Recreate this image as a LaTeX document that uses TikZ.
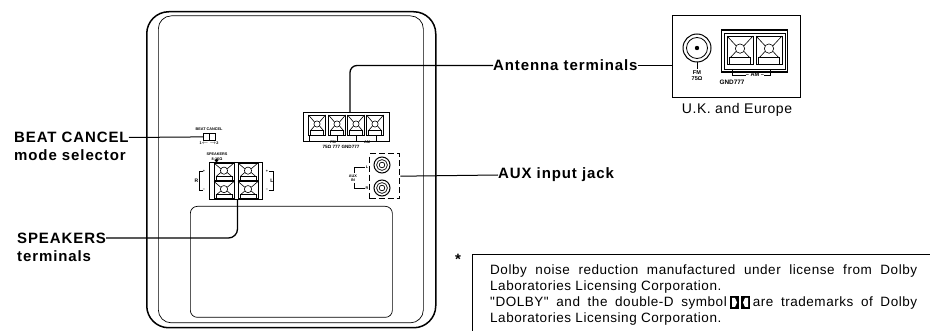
\documentclass[tikz,border=0pt]{standalone}
\usepackage{fontspec}
\setmainfont{Liberation Sans}
\newfontfamily\spacedfont[LetterSpace=6]{Liberation Sans}
\newfontfamily\notefont[LetterSpace=4]{Liberation Sans}
\usepackage{tikz}
\usetikzlibrary{positioning,calc}
\tikzset{
  leader/.style={line width=1.3pt},
  thinline/.style={line width=0.5pt},
  calloutlabel/.style={font=\fontsize{15}{18}\spacedfont\bfseries, align=left, inner sep=0pt},
  tinylabel/.style={font=\fontsize{3.8}{4.4}\selectfont\bfseries, inner sep=0pt, align=center},
  smalllabel/.style={font=\fontsize{5.6}{6.4}\selectfont\bfseries, inner sep=0pt, align=center},
  panelbox/.style={draw, anchor=north west, inner sep=0pt},
  noteline/.style={anchor=west, inner sep=0pt, font=\fontsize{13.5}{16}\notefont},
}
% one screw terminal: centre x, centre y, half width, half height
\newcommand{\terminal}[4]{
  \draw[line width=0.7pt] (#1-#3,#2-#4) rectangle (#1+#3,#2+#4);
  \draw[line width=0.6pt] (#1-#3,#2-#4) -- (#1-0.3*#3,#2-0.3*#4) (#1+#3,#2-#4) -- (#1+0.3*#3,#2-0.3*#4);
  \draw[line width=0.6pt] (#1-0.75*#3,#2+0.55*#4) -- (#1-0.3*#3,#2+0.1*#4) (#1+0.75*#3,#2+0.55*#4) -- (#1+0.3*#3,#2+0.1*#4);
  \draw[line width=0.6pt] (#1,#2-0.1*#4) circle (0.36*#3);
  \draw[line width=0.7pt] (#1-0.8*#3,#2+0.55*#4) rectangle (#1+0.8*#3,#2+#4);
}
\begin{document}
\begin{tikzpicture}[x=1pt, y=-1pt]
\useasboundingbox (0,0) rectangle (930,331);
% cabinet
\node[panelbox, line width=1.5pt, rounded corners=22pt, minimum width=289pt, minimum height=316pt] (cabinet) at (146,11) {};
\node[panelbox, line width=0.7pt, rounded corners=13pt, minimum width=265pt, minimum height=307pt] (cabinetin) at (158,15.5) {};
\node[panelbox, line width=0.7pt, rounded corners=7pt, minimum width=202pt, minimum height=111pt] (lowerpanel) at (190,206) {};
% beat cancel switch
\node[panelbox, line width=0.8pt, minimum width=12pt, minimum height=7pt] (switch) at (203,133) {};
\fill (209,133) rectangle (210,140);
\node[tinylabel] (switchname) at (209,129) {BEAT CANCEL};
\node[tinylabel] (switchpos) at (209,143.5) {1$\leftarrow$ $\rightarrow$2};
% speakers block
\node[panelbox, line width=0.8pt, minimum width=53pt, minimum height=37pt] (spkblock) at (208.5,162) {};
\foreach \xx in {224,248} \foreach \yy in {171.5,190} \terminal{\xx}{\yy}{10}{8.5};
\fill (216.5,160.5) circle (1.8pt);
\node[tinylabel] (spkname) at (217,156.5) {SPEAKERS\\8-16Ω};
\draw[thinline] (203,171) -- (199,171) -- (199,190) -- (203,190);
\draw[thinline] (269,171) -- (273,171) -- (273,190) -- (269,190);
\node[tinylabel, font=\fontsize{5}{6}\selectfont\bfseries] (spkR) at (196.5,181) {R};
\node[tinylabel, font=\fontsize{5}{6}\selectfont\bfseries] (spkL) at (272,181) {L};
\node[tinylabel] (spkRp) at (204,171) {+};
\node[tinylabel] (spkRm) at (204,190) {--};
\node[tinylabel] (spkLp) at (267,171) {+};
\node[tinylabel] (spkLm) at (267,190) {--};
% antenna block
\node[panelbox, line width=0.9pt, minimum width=86pt, minimum height=29pt] (antblock) at (303,112) {};
\foreach \xx in {317,337,356,375} \terminal{\xx}{125}{8.5}{10};
\node[tinylabel] (antfm) at (333,142) {FM};
\node[tinylabel] (antam) at (367,142) {AM};
\node[tinylabel, font=\fontsize{4.6}{5}\selectfont\bfseries] (antgnd) at (341,146.5) {75Ω 777 GND777};
\draw[thinline] (309,136) -- (309,141) -- (329,141) (337,141) -- (337,136) (356,136) -- (356,141) -- (362,141) (372,141) -- (376,141) -- (376,136);
% aux block
\node[panelbox, line width=1.4pt, dash pattern=on 6pt off 3pt, minimum width=30pt, minimum height=45pt] (auxblock) at (369,153) {};
\foreach \yy in {165,188} {
  \draw[line width=1pt] (382,\yy) circle (8pt);
  \draw[line width=0.7pt] (382,\yy) circle (5.4pt);
  \draw[line width=0.7pt] (382,\yy) circle (2.8pt);
}
\node[tinylabel] (auxname) at (353,178) {AUX\\IN};
\node[tinylabel] (auxL) at (367,167) {L};
\node[tinylabel] (auxR) at (367,188) {R};
\draw[thinline] (365,167) -- (354,167) -- (354,173) (354,183) -- (354,188) -- (365,188);
% callouts
\node[calloutlabel, anchor=west] (beatlabel) at (14,137.5) {BEAT CANCEL};
\node[calloutlabel, anchor=west] (beatlabelb) at (14,155.5) {mode selector};
\node[calloutlabel, anchor=west] (spklabel) at (17,238) {SPEAKERS};
\node[calloutlabel, anchor=west] (spklabelb) at (17,256) {terminals};
\node[calloutlabel, anchor=west] (antlabel) at (493,65.5) {Antenna terminals};
\node[calloutlabel, anchor=west] (auxlabel) at (498,175) {AUX input jack};
\draw[leader, line width=1pt] (beatlabel.east) -- (switch.west);
\draw[leader, rounded corners=9pt] (spklabel.east) -| (spkblock.south -| 237.5,0);
\draw[leader, rounded corners=7pt] (antblock.north -| 350,0) |- (antlabel.west);
\draw[leader, line width=1pt] (auxblock.east) -- (auxlabel.west);
% U.K. version
\node[panelbox, line width=1pt, minimum width=128pt, minimum height=82pt] (ukbox) at (672,15) {};
\node[font=\fontsize{14}{16}\notefont, inner sep=0pt] (uklabel) at (737,110) {U.K. and Europe};
\draw[leader, line width=1pt] (antlabel.east) -- (ukbox.west |- antlabel.east);
\draw[line width=1pt] (697,48) circle (14pt);
\draw[line width=0.8pt] (697,48) circle (10.5pt);
\fill (697,48) circle (2.2pt);
\draw[line width=0.8pt] (697,62) -- (697,69);
\node[smalllabel] (ukfm) at (697,75.5) {FM\\75Ω};
\node[panelbox, line width=1.2pt, minimum width=66pt, minimum height=42pt] (ukblock) at (721,29.5) {};
\draw[line width=0.6pt] (724,33) rectangle (785,69);
\terminal{740}{50}{13}{14}
\terminal{769}{50}{13}{14}
\node[smalllabel] (ukam) at (755,75) {-- AM --};
\node[smalllabel, font=\fontsize{6.4}{7}\selectfont\bfseries] (ukgnd) at (732,82.5) {GND777};
\draw[thinline] (732,69) -- (732,75) -- (746,75) (764,75) -- (770,75) -- (770,69);
% footnote
\node[font=\fontsize{15}{15}\selectfont\bfseries, inner sep=0pt] (star) at (458,259.5) {*};
\coordinate (noteend) at (930,254);
\coordinate (notefoot) at (472,331);
\draw[line width=0.9pt] (notefoot) |- (noteend);
\node[noteline] (notea) at (490,271) {\hbox to 427pt{Dolby noise reduction manufactured under license from Dolby}};
\node[noteline] (noteb) at (490,287) {Laboratories Licensing Corporation.};
\node[noteline] (notec) at (490,303) {\hbox to 427pt{"DOLBY" and the double-D symbol\hspace{26pt}are trademarks of Dolby}};
\node[noteline] (noted) at (490,319) {Laboratories Licensing Corporation.};
\fill (730,296) rectangle (739,309);
\fill[white] (732,298) -- (735,298) -- (737,302.5) -- (735,307) -- (732,307) -- cycle;
\fill (741,296) rectangle (750,309);
\fill[white] (748,298) -- (745,298) -- (743,302.5) -- (745,307) -- (748,307) -- cycle;
\end{tikzpicture}
\end{document}
